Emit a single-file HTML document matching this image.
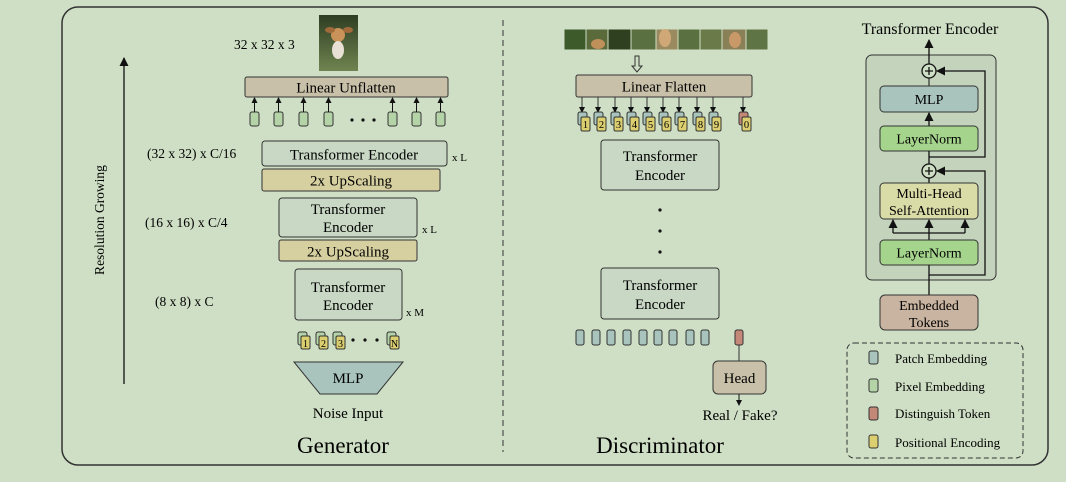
<!DOCTYPE html>
<html><head><meta charset="utf-8"><style>
html,body{margin:0;padding:0;background:#cfdfc5;}
svg{display:block;font-family:"Liberation Serif",serif;}
</style></head><body>
<svg width="1066" height="482" viewBox="0 0 1066 482" xmlns="http://www.w3.org/2000/svg">
<defs>
<marker id="a" markerWidth="6" markerHeight="6" refX="5" refY="3" orient="auto" markerUnits="userSpaceOnUse"><path d="M0,0 L6,3 L0,6 z" fill="#111"/></marker>
<marker id="b" markerWidth="9" markerHeight="9" refX="8" refY="4.5" orient="auto" markerUnits="userSpaceOnUse"><path d="M0,0 L9,4.5 L0,9 z" fill="#111"/></marker>
<linearGradient id="dog" x1="0" y1="0" x2="0" y2="1"><stop offset="0" stop-color="#2e3d22"/><stop offset="1" stop-color="#6f8450"/></linearGradient>
</defs>
<rect width="1066" height="482" fill="#cfdfc5"/>
<rect x="62" y="7" width="986" height="458" rx="16" fill="none" stroke="#333" stroke-width="1.5"/>
<line x1="503" y1="20" x2="503" y2="452" stroke="#333" stroke-dasharray="6,4"/>

<!-- Generator -->
<line x1="124" y1="384" x2="124" y2="58" stroke="#111" stroke-width="1.3" marker-end="url(#b)"/>
<text transform="translate(104,220) rotate(-90)" font-size="13.5" text-anchor="middle">Resolution Growing</text>
<text x="234" y="49" font-size="13.5">32 x 32 x 3</text>
<rect x="319" y="15" width="39" height="56" fill="url(#dog)"/>
<ellipse cx="338" cy="35" rx="7" ry="7" fill="#c89258"/>
<ellipse cx="338" cy="50" rx="6" ry="9" fill="#e8e0d4"/>
<ellipse cx="330" cy="30" rx="5" ry="3" fill="#a06a3a"/><ellipse cx="348" cy="30" rx="5" ry="3" fill="#a06a3a"/>
<rect x="245" y="77" width="203" height="20" rx="2" fill="#c8c0a8" stroke="#333"/>
<text x="346" y="92.5" font-size="15" text-anchor="middle">Linear Unflatten</text>
<g fill="#b4d4a8" stroke="#333">
<rect x="250" y="112" width="9" height="14" rx="2"/><rect x="274" y="112" width="9" height="14" rx="2"/><rect x="299" y="112" width="9" height="14" rx="2"/><rect x="324" y="112" width="9" height="14" rx="2"/>
<rect x="388" y="112" width="9" height="14" rx="2"/><rect x="412" y="112" width="9" height="14" rx="2"/><rect x="436" y="112" width="9" height="14" rx="2"/>
</g>
<g stroke="#111" marker-end="url(#a)">
<line x1="254.5" y1="112" x2="254.5" y2="98"/><line x1="278.5" y1="112" x2="278.5" y2="98"/><line x1="303.5" y1="112" x2="303.5" y2="98"/><line x1="328.5" y1="112" x2="328.5" y2="98"/>
<line x1="392.5" y1="112" x2="392.5" y2="98"/><line x1="416.5" y1="112" x2="416.5" y2="98"/><line x1="440.5" y1="112" x2="440.5" y2="98"/>
</g>
<g fill="#111"><circle cx="352" cy="120" r="1.6"/><circle cx="363" cy="120" r="1.6"/><circle cx="374" cy="120" r="1.6"/></g>

<text x="147" y="158" font-size="13.5">(32 x 32) x C/16</text>
<rect x="262" y="141" width="185" height="25" rx="3" fill="#c8d8c4" stroke="#333"/>
<text x="354" y="159.5" font-size="15" text-anchor="middle">Transformer Encoder</text>
<text x="452" y="161" font-size="11">x L</text>
<rect x="262" y="169" width="178" height="22" rx="2" fill="#d6d0a0" stroke="#333"/>
<text x="351" y="185.5" font-size="15" text-anchor="middle">2x UpScaling</text>

<text x="145" y="227" font-size="13.5">(16 x 16) x C/4</text>
<rect x="279" y="198" width="138" height="39" rx="3" fill="#c8d8c4" stroke="#333"/>
<text x="348" y="214" font-size="15" text-anchor="middle">Transformer</text>
<text x="348" y="232" font-size="15" text-anchor="middle">Encoder</text>
<text x="422" y="233" font-size="11">x L</text>
<rect x="279" y="240" width="138" height="21" rx="2" fill="#d6d0a0" stroke="#333"/>
<text x="348" y="256.5" font-size="15" text-anchor="middle">2x UpScaling</text>

<text x="155" y="306" font-size="13.5">(8 x 8) x C</text>
<rect x="295" y="269" width="107" height="51" rx="3" fill="#c8d8c4" stroke="#333"/>
<text x="348" y="292" font-size="15" text-anchor="middle">Transformer</text>
<text x="348" y="310" font-size="15" text-anchor="middle">Encoder</text>
<text x="406" y="316" font-size="11">x M</text>

<g stroke="#333" font-size="10">
<rect x="298" y="332" width="9" height="13" rx="2" fill="#b4d4a8"/><rect x="301" y="336" width="9" height="13" rx="1.5" fill="#dccf70"/>
<rect x="316" y="332" width="9" height="13" rx="2" fill="#b4d4a8"/><rect x="319" y="336" width="9" height="13" rx="1.5" fill="#dccf70"/>
<rect x="333" y="332" width="9" height="13" rx="2" fill="#b4d4a8"/><rect x="336" y="336" width="9" height="13" rx="1.5" fill="#dccf70"/>
<rect x="387" y="332" width="9" height="13" rx="2" fill="#b4d4a8"/><rect x="390" y="336" width="9" height="13" rx="1.5" fill="#dccf70"/>
</g>
<g font-size="10" text-anchor="middle"><text x="305.5" y="347">1</text><text x="323.5" y="347">2</text><text x="340.5" y="347">3</text><text x="394.5" y="347">N</text></g>
<g fill="#111"><circle cx="353" cy="340" r="1.6"/><circle cx="365" cy="340" r="1.6"/><circle cx="377" cy="340" r="1.6"/></g>
<polygon points="294,362 403,362 377,394 320,394" fill="#a8c4bc" stroke="#333"/>
<text x="348" y="383" font-size="15" text-anchor="middle">MLP</text>
<text x="348" y="418" font-size="15" text-anchor="middle">Noise Input</text>
<text x="343" y="453" font-size="23" text-anchor="middle">Generator</text>

<!-- Discriminator -->
<g stroke="#cfdfc5" stroke-width="1">
<rect x="564" y="29" width="22" height="21" fill="#3c5a2a"/><rect x="586" y="29" width="22" height="21" fill="#5a6a3a"/><rect x="608" y="29" width="23" height="21" fill="#2e4020"/><rect x="631" y="29" width="25" height="21" fill="#5b7040"/>
<rect x="656" y="29" width="22" height="21" fill="#9a8a60"/><rect x="678" y="29" width="22" height="21" fill="#5a7040"/><rect x="700" y="29" width="22" height="21" fill="#6a7a48"/><rect x="722" y="29" width="24" height="21" fill="#8a8058"/><rect x="746" y="29" width="22" height="21" fill="#5f7445"/>
</g>
<ellipse cx="598" cy="44" rx="7" ry="5" fill="#c0905a"/><ellipse cx="665" cy="38" rx="6" ry="9" fill="#d0a878"/><ellipse cx="735" cy="40" rx="6" ry="8" fill="#c89868"/>
<path d="M635,56 L639,56 L639,66 L642,66 L637,72 L632,66 L635,66 Z" fill="none" stroke="#333"/>
<rect x="576" y="75" width="176" height="22" rx="2" fill="#c8c0a8" stroke="#333"/>
<text x="664" y="91.5" font-size="15" text-anchor="middle">Linear Flatten</text>
<g stroke="#333">
<line x1="582" y1="97" x2="582" y2="112" marker-end="url(#a)"/><line x1="598" y1="97" x2="598" y2="112" marker-end="url(#a)"/><line x1="615" y1="97" x2="615" y2="112" marker-end="url(#a)"/><line x1="631" y1="97" x2="631" y2="112" marker-end="url(#a)"/><line x1="647" y1="97" x2="647" y2="112" marker-end="url(#a)"/><line x1="663" y1="97" x2="663" y2="112" marker-end="url(#a)"/><line x1="679" y1="97" x2="679" y2="112" marker-end="url(#a)"/><line x1="697" y1="97" x2="697" y2="112" marker-end="url(#a)"/><line x1="713" y1="97" x2="713" y2="112" marker-end="url(#a)"/><line x1="743" y1="97" x2="743" y2="112" marker-end="url(#a)"/>
<g fill="#a8c4bc">
<rect x="578" y="112" width="9" height="13" rx="2"/><rect x="594" y="112" width="9" height="13" rx="2"/><rect x="611" y="112" width="9" height="13" rx="2"/><rect x="627" y="112" width="9" height="13" rx="2"/><rect x="643" y="112" width="9" height="13" rx="2"/><rect x="659" y="112" width="9" height="13" rx="2"/><rect x="675" y="112" width="9" height="13" rx="2"/><rect x="693" y="112" width="9" height="13" rx="2"/><rect x="709" y="112" width="9" height="13" rx="2"/>
</g>
<rect x="739" y="112" width="9" height="13" rx="2" fill="#c48878"/>
<g fill="#dccf70">
<rect x="581" y="117" width="9" height="14" rx="1.5"/><rect x="597" y="117" width="9" height="14" rx="1.5"/><rect x="614" y="117" width="9" height="14" rx="1.5"/><rect x="630" y="117" width="9" height="14" rx="1.5"/><rect x="646" y="117" width="9" height="14" rx="1.5"/><rect x="662" y="117" width="9" height="14" rx="1.5"/><rect x="678" y="117" width="9" height="14" rx="1.5"/><rect x="696" y="117" width="9" height="14" rx="1.5"/><rect x="712" y="117" width="9" height="14" rx="1.5"/><rect x="742" y="117" width="9" height="14" rx="1.5"/>
</g>
</g>
<g font-size="10.5" text-anchor="middle"><text x="585.5" y="128">1</text><text x="601.5" y="128">2</text><text x="618.5" y="128">3</text><text x="634.5" y="128">4</text><text x="650.5" y="128">5</text><text x="666.5" y="128">6</text><text x="682.5" y="128">7</text><text x="700.5" y="128">8</text><text x="716.5" y="128">9</text><text x="746.5" y="128">0</text></g>
<rect x="601" y="140" width="118" height="50" rx="3" fill="#c8d8c4" stroke="#333"/>
<text x="660" y="161" font-size="15" text-anchor="middle">Transformer</text>
<text x="660" y="180" font-size="15" text-anchor="middle">Encoder</text>
<g fill="#111"><circle cx="660" cy="210" r="1.6"/><circle cx="660" cy="231" r="1.6"/><circle cx="660" cy="252" r="1.6"/></g>
<rect x="601" y="268" width="118" height="51" rx="3" fill="#c8d8c4" stroke="#333"/>
<text x="660" y="290" font-size="15" text-anchor="middle">Transformer</text>
<text x="660" y="309" font-size="15" text-anchor="middle">Encoder</text>
<g fill="#a8c4bc" stroke="#333">
<rect x="576" y="330" width="8" height="15" rx="2"/><rect x="592" y="330" width="8" height="15" rx="2"/><rect x="607" y="330" width="8" height="15" rx="2"/><rect x="623" y="330" width="8" height="15" rx="2"/><rect x="639" y="330" width="8" height="15" rx="2"/><rect x="654" y="330" width="8" height="15" rx="2"/><rect x="669" y="330" width="8" height="15" rx="2"/><rect x="686" y="330" width="8" height="15" rx="2"/><rect x="701" y="330" width="8" height="15" rx="2"/>
</g>
<rect x="735" y="330" width="8" height="15" rx="2" fill="#c48878" stroke="#333"/>
<line x1="739" y1="345" x2="739" y2="361" stroke="#333"/>
<rect x="713" y="361" width="53" height="33" rx="5" fill="#c8c0a8" stroke="#333"/>
<text x="739.5" y="383" font-size="15" text-anchor="middle">Head</text>
<line x1="739" y1="394" x2="739" y2="405" stroke="#111" marker-end="url(#a)"/>
<text x="740" y="420" font-size="15" text-anchor="middle">Real / Fake?</text>
<text x="660" y="453" font-size="23" text-anchor="middle">Discriminator</text>

<!-- Transformer encoder detail -->
<text x="930" y="34" font-size="16" text-anchor="middle">Transformer Encoder</text>
<rect x="866" y="55" width="130" height="225" rx="6" fill="#c4d4bc" stroke="#333"/>
<line x1="929" y1="64" x2="929" y2="40" stroke="#111" stroke-width="1.3" marker-end="url(#b)"/>
<line x1="929" y1="86" x2="929" y2="78" stroke="#111"/>
<circle cx="929" cy="71" r="7" fill="#cfdfc5" stroke="#111" stroke-width="1.3"/>
<path d="M925,71 H933 M929,67 V75" stroke="#111" stroke-width="1.3"/>
<path d="M929,157 H985 V71 H937" fill="none" stroke="#111" stroke-width="1.3" marker-end="url(#b)"/>
<rect x="880" y="86" width="98" height="26" rx="4" fill="#a8c4bc" stroke="#333"/>
<text x="929" y="104" font-size="14" text-anchor="middle">MLP</text>
<line x1="929" y1="126" x2="929" y2="113" stroke="#111" stroke-width="1.3" marker-end="url(#b)"/>
<rect x="880" y="126" width="98" height="25" rx="4" fill="#a5d48c" stroke="#333"/>
<text x="929" y="143.5" font-size="14" text-anchor="middle">LayerNorm</text>
<line x1="929" y1="151" x2="929" y2="164" stroke="#111" stroke-width="1.3"/>
<line x1="929" y1="183" x2="929" y2="178" stroke="#111" stroke-width="1.3"/>
<circle cx="929" cy="171" r="7" fill="#cfdfc5" stroke="#111" stroke-width="1.3"/>
<path d="M925,171 H933 M929,167 V175" stroke="#111" stroke-width="1.3"/>
<path d="M929,275 H985 V171 H937" fill="none" stroke="#111" stroke-width="1.3" marker-end="url(#b)"/>
<rect x="880" y="183" width="98" height="36" rx="4" fill="#dadca8" stroke="#333"/>
<text x="929" y="198" font-size="14" text-anchor="middle">Multi-Head</text>
<text x="929" y="215" font-size="14" text-anchor="middle">Self-Attention</text>
<path d="M893,233 H965" stroke="#111" stroke-width="1.3"/>
<line x1="893" y1="233" x2="893" y2="220" stroke="#111" stroke-width="1.3" marker-end="url(#b)"/>
<line x1="929" y1="240" x2="929" y2="220" stroke="#111" stroke-width="1.3" marker-end="url(#b)"/>
<line x1="965" y1="233" x2="965" y2="220" stroke="#111" stroke-width="1.3" marker-end="url(#b)"/>
<rect x="880" y="240" width="98" height="25" rx="4" fill="#a5d48c" stroke="#333"/>
<text x="929" y="257.5" font-size="14" text-anchor="middle">LayerNorm</text>
<line x1="929" y1="265" x2="929" y2="295" stroke="#111" stroke-width="1.3"/>
<rect x="880" y="295" width="98" height="35" rx="5" fill="#c8b4a0" stroke="#333"/>
<text x="929" y="310" font-size="14" text-anchor="middle">Embedded</text>
<text x="929" y="327" font-size="14" text-anchor="middle">Tokens</text>

<!-- Legend -->
<rect x="847" y="343" width="176" height="115" rx="7" fill="none" stroke="#333" stroke-dasharray="5,3"/>
<g stroke="#333">
<rect x="869" y="351" width="9" height="13" rx="2" fill="#a8c4bc"/>
<rect x="869" y="379" width="9" height="13" rx="2" fill="#b4d4a8"/>
<rect x="869" y="407" width="9" height="13" rx="2" fill="#c48878"/>
<rect x="869" y="435" width="9" height="13" rx="2" fill="#dccf70"/>
</g>
<g font-size="13">
<text x="895" y="363">Patch Embedding</text>
<text x="895" y="391">Pixel Embedding</text>
<text x="895" y="418">Distinguish Token</text>
<text x="895" y="447">Positional Encoding</text>
</g>
</svg>
</body></html>
